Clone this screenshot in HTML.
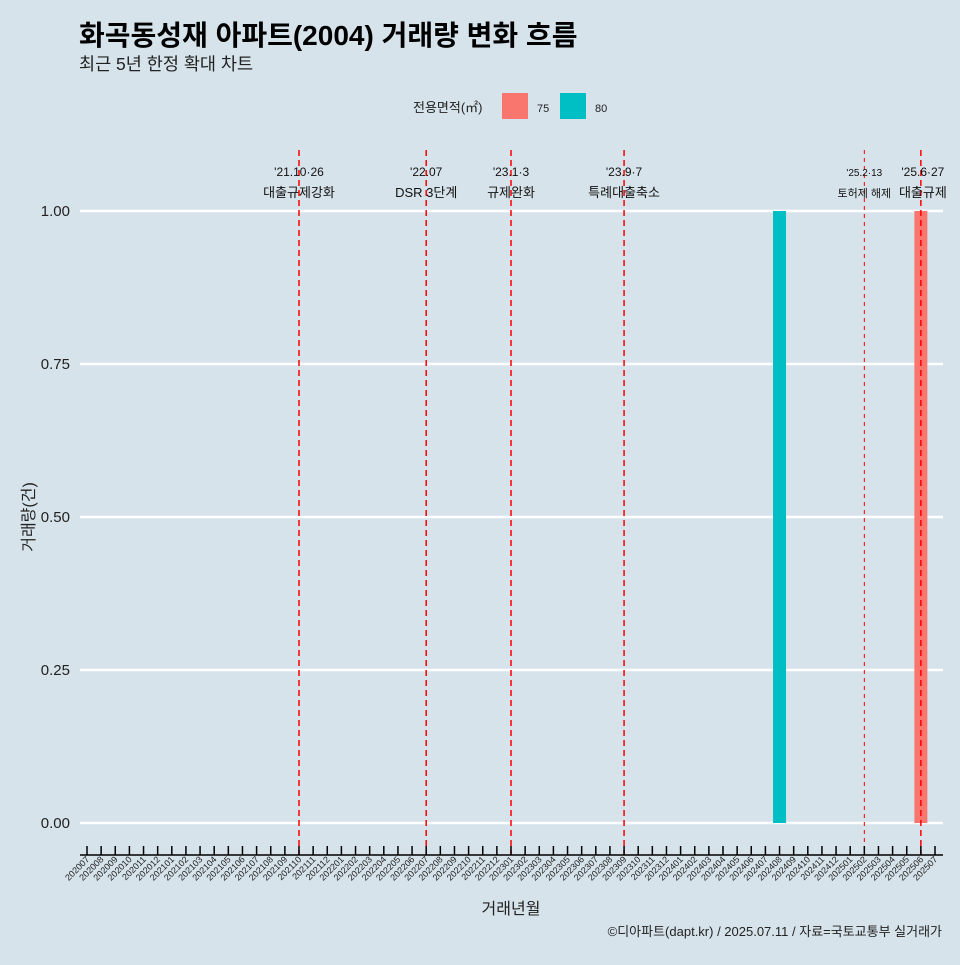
<!DOCTYPE html>
<html><head><meta charset="utf-8"><style>
body{margin:0;background:#d6e3ea;font-family:"Liberation Sans","Noto Sans CJK KR",sans-serif}
svg text{font-family:"Liberation Sans","Noto Sans CJK KR",sans-serif}
</style></head><body>
<svg id="c" width="960" height="960" xmlns="http://www.w3.org/2000/svg">
<rect width="960" height="960" fill="#d6e3ea"/>
<text x="79" y="45" font-size="28" font-weight="bold" fill="#000">화곡동성재 아파트(2004) 거래량 변화 흐름</text>
<text x="79" y="70" font-size="17.5" fill="#222">최근 5년 한정 확대 차트</text>
<g>
<text x="413" y="112" font-size="13" fill="#222">전용면적(㎡)</text>
<rect x="502" y="93" width="26" height="26" fill="#f8766d"/>
<text x="537" y="112" font-size="11" fill="#222">75</text>
<rect x="560" y="93" width="26" height="26" fill="#00bfc4"/>
<text x="595" y="112" font-size="11" fill="#222">80</text>
</g>
<g id="grid"></g><g id="bars"></g><g id="vl"></g><g id="ax"></g>
<text transform="translate(34,517) rotate(-90)" text-anchor="middle" font-size="16" fill="#222">거래량(건)</text>
<text x="511" y="914" text-anchor="middle" font-size="16" fill="#222">거래년월</text>
<text x="942" y="936" text-anchor="end" font-size="13" fill="#222">©디아파트(dapt.kr) / 2025.07.11 / 자료=국토교통부 실거래가</text>
</svg>
<script>
const months=[];for(let y=2020;y<=2025;y++)for(let m=1;m<=12;m++){const k=y*100+m;if(k>=202007&&k<=202507)months.push(String(k));}
const barMonths=["202408","202506"];
const barValues=[1,1];
const barArea=["80","75"];
const yTicks=[0,0.25,0.5,0.75,1.0];
const yTickLabels=["0.00","0.25","0.50","0.75","1.00"];
const eventMonths=["202110","202207","202301","202309","202502","202506"];
const eventDates=["'21.10·26","'22.07","'23.1·3","'23.9·7","'25.2·13","'25.6·27"];
const eventTexts=["대출규제강화","DSR 3단계","규제완화","특례대출축소","토허제 해제","대출규제"];
const colors={"75":"#f8766d","80":"#00bfc4"};
const NS="http://www.w3.org/2000/svg";
const x=i=>87+i*(935-87)/60;
const xm=m=>x(months.indexOf(m));
const y=v=>823-v*612;
function mk(t,a,p){const e=document.createElementNS(NS,t);for(const k in a)e.setAttribute(k,a[k]);p.appendChild(e);return e;}
const g=document.getElementById('grid'),b=document.getElementById('bars'),vl=document.getElementById('vl'),ax=document.getElementById('ax');
yTicks.forEach((v,i)=>{
const l=mk('line',{x1:80,x2:943,y1:y(v),y2:y(v),stroke:'#fff','stroke-width':2.5},g);


const t=mk('text',{x:70,y:y(v)+5,'text-anchor':'end','font-size':15,fill:'#222'},g);t.textContent=yTickLabels[i];


});
barMonths.forEach((m,i)=>{
const r=mk('rect',{x:xm(m)-6.5,y:y(barValues[i]),width:13,height:y(0)-y(barValues[i]),fill:colors[barArea[i]]},b);


});
eventMonths.forEach((m,i)=>{
const xx=xm(m);const small=i==4;
const l=mk('line',{x1:xx,x2:xx,y1:150,y2:855,stroke:'#ff0000','stroke-width':small?1:1.5,'stroke-dasharray':small?'4,4':'6,4'},vl);


const fs=small?11:13;const tx=i==5?xx+2:xx;
const t1=mk('text',{x:tx,y:176,'text-anchor':'middle','font-size':fs-1,fill:'#111'},vl);t1.textContent=eventDates[i];


const t2=mk('text',{x:tx,y:197,'text-anchor':'middle','font-size':fs,fill:'#111'},vl);t2.textContent=eventTexts[i];


});
const al=mk('line',{x1:80,x2:943,y1:855,y2:855,stroke:'#000','stroke-width':1.5},ax);


months.forEach((m,i)=>{
const tk=mk('line',{x1:x(i),x2:x(i),y1:846,y2:855,stroke:'#000','stroke-width':1.5},ax);


const t=mk('text',{transform:`translate(${x(i)+3},860) rotate(-45)`,'text-anchor':'end','font-size':9,fill:'#222'},ax);t.textContent=m;


});
</script>
</body></html>
